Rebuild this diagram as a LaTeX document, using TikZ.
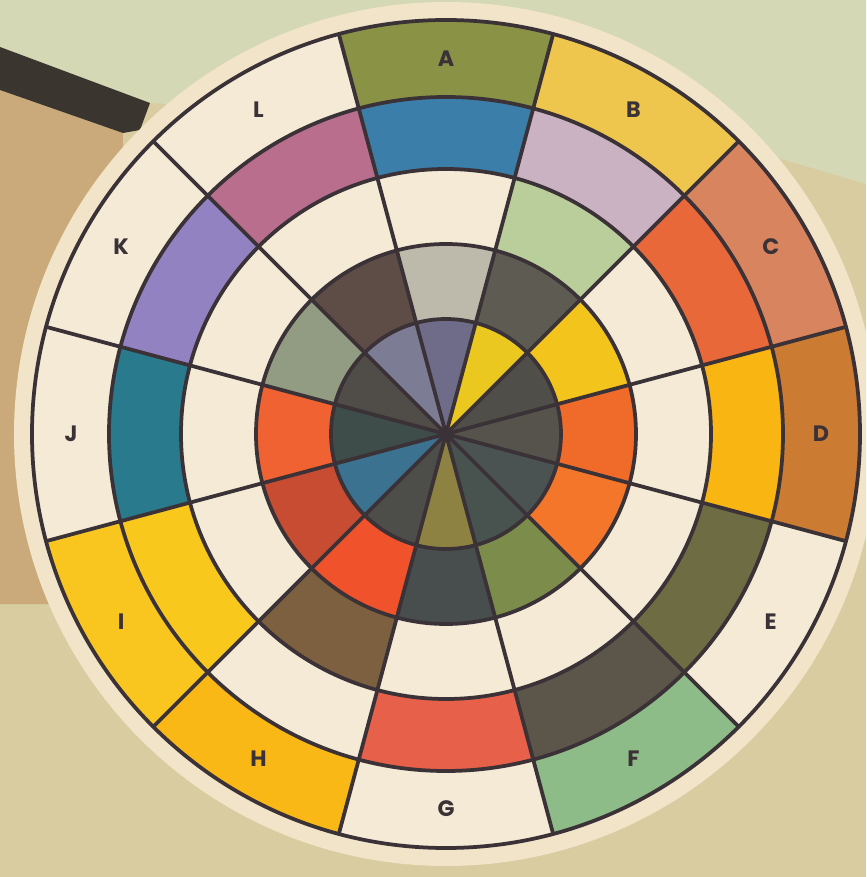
\documentclass[tikz,border=0pt]{standalone}
\usepackage{fontspec}
\setsansfont{Poppins}

% cell colours, ring 1 = outer (letters) ... core = centre disk
\definecolor{cream}{HTML}{F4EAD6}
\definecolor{rim}{HTML}{F1E4C8}
\definecolor{ink}{HTML}{3A3236}
\definecolor{r1A}{HTML}{8A9246}
\definecolor{r1B}{HTML}{EEC64E}
\definecolor{r1C}{HTML}{D8845E}
\definecolor{r1D}{HTML}{CC7C32}
\colorlet{r1E}{cream}
\definecolor{r1F}{HTML}{8EBC88}
\colorlet{r1G}{cream}
\definecolor{r1H}{HTML}{F9B816}
\definecolor{r1I}{HTML}{F8C61E}
\colorlet{r1J}{cream}
\colorlet{r1K}{cream}
\colorlet{r1L}{cream}
\definecolor{r2A}{HTML}{3C7EAA}
\definecolor{r2B}{HTML}{CBB2C2}
\definecolor{r2C}{HTML}{E8683A}
\definecolor{r2D}{HTML}{F9B612}
\definecolor{r2E}{HTML}{6E6C42}
\definecolor{r2F}{HTML}{5C564A}
\definecolor{r2G}{HTML}{E6604A}
\colorlet{r2H}{cream}
\definecolor{r2I}{HTML}{F9C81C}
\definecolor{r2J}{HTML}{2A7A8E}
\definecolor{r2K}{HTML}{9282C2}
\definecolor{r2L}{HTML}{B86E8C}
\colorlet{r3A}{cream}
\definecolor{r3B}{HTML}{BACE9C}
\colorlet{r3C}{cream}
\colorlet{r3D}{cream}
\colorlet{r3E}{cream}
\colorlet{r3F}{cream}
\colorlet{r3G}{cream}
\definecolor{r3H}{HTML}{7C6040}
\colorlet{r3I}{cream}
\colorlet{r3J}{cream}
\colorlet{r3K}{cream}
\colorlet{r3L}{cream}
\definecolor{r4A}{HTML}{BDB9AB}
\definecolor{r4B}{HTML}{5E5B52}
\definecolor{r4C}{HTML}{F2C41C}
\definecolor{r4D}{HTML}{F06A2A}
\definecolor{r4E}{HTML}{F4762A}
\definecolor{r4F}{HTML}{7C8C4A}
\definecolor{r4G}{HTML}{484D4E}
\definecolor{r4H}{HTML}{F0522C}
\definecolor{r4I}{HTML}{C84C32}
\definecolor{r4J}{HTML}{F06232}
\definecolor{r4K}{HTML}{929C82}
\definecolor{r4L}{HTML}{5E4C46}
\definecolor{cA}{HTML}{6E6C88}
\definecolor{cB}{HTML}{EAC820}
\definecolor{cC}{HTML}{504E48}
\definecolor{cD}{HTML}{56534C}
\definecolor{cE}{HTML}{4A5352}
\definecolor{cF}{HTML}{48524E}
\definecolor{cG}{HTML}{8E8242}
\definecolor{cH}{HTML}{4D4D49}
\definecolor{cI}{HTML}{3A7290}
\definecolor{cJ}{HTML}{3E4C4A}
\definecolor{cK}{HTML}{504D48}
\definecolor{cL}{HTML}{7C7C94}

\begin{document}
\begin{tikzpicture}[x=0.03cm, y=0.03cm, line cap=round, line join=round,
	wheelline/.style={draw=ink, line width=3.2pt},
	lbl/.style={font=\sffamily\bfseries\fontsize{19}{19}\selectfont, text=ink, inner sep=0pt}]
	% -------- Tunables --------
	\def\Rdisk{432}   % cream rim of the board
	\def\Rout{414}    % outer line
	\def\Rone{337}    % ring 1 / ring 2
	\def\Rtwo{265}    % ring 2 / ring 3
	\def\Rthree{190}  % ring 3 / ring 4
	\def\Rfour{115}   % ring 4 / core
	\def\rlab{375}    % radius of the letters
	
	\clip (-446,-443) rectangle (420,434);
	
	% background (photo surroundings)
	\fill[color={rgb,255:red,216;green,204;blue,160}] (-446,-443) rectangle (420,434);
	\fill[color={rgb,255:red,212;green,216;blue,180}] (-446,434) -- (420,434) -- (420,250) -- (254,299) -- (-296,331) -- (-446,387) -- cycle;
	\fill[color={rgb,255:red,202;green,170;blue,122}] (-446,344) -- (-323,301) -- (-330,-170) -- (-446,-170) -- cycle;
	\fill[color={rgb,255:red,59;green,53;blue,48}] (-446,387) -- (-296,331) -- (-306,304) -- (-323,301) -- (-446,344) -- cycle;
	
	% board
	\fill[rim] (0,0) circle[radius=\Rdisk];
	
	% -------- Rings of 12 cells, A at the top, clockwise --------
	\foreach \ri/\ro/\tag in {\Rone/\Rout/r1, \Rtwo/\Rone/r2, \Rthree/\Rtwo/r3, \Rfour/\Rthree/r4}{
		\foreach \L [count=\k from 0] in {A,B,C,D,E,F,G,H,I,J,K,L}{
			\pgfmathsetmacro{\a}{105-30*\k}
			\pgfmathsetmacro{\b}{75-30*\k}
			\fill[\tag\L] (\a:\ri) arc[start angle=\a, end angle=\b, radius=\ri]
			-- (\b:\ro) arc[start angle=\b, end angle=\a, radius=\ro] -- cycle;
		}
	}
	% core wedges
	\foreach \L [count=\k from 0] in {A,B,C,D,E,F,G,H,I,J,K,L}{
		\pgfmathsetmacro{\a}{105-30*\k}
		\pgfmathsetmacro{\b}{75-30*\k}
		\fill[c\L] (0,0) -- (\a:\Rfour) arc[start angle=\a, end angle=\b, radius=\Rfour] -- cycle;
	}
	
	% circles and spokes
	\foreach \r in {\Rout,\Rone,\Rtwo,\Rthree,\Rfour}
	\draw[wheelline] (0,0) circle[radius=\r];
	\foreach \k in {0,...,11}
	\draw[wheelline] (0,0) -- ({105-30*\k}:\Rout);
	
	% letters
	\foreach \L [count=\k from 0] in {A,B,C,D,E,F,G,H,I,J,K,L}
	\node[lbl] (lbl\L) at ({90-30*\k}:\rlab) {\L};
	
\end{tikzpicture}
\end{document}
